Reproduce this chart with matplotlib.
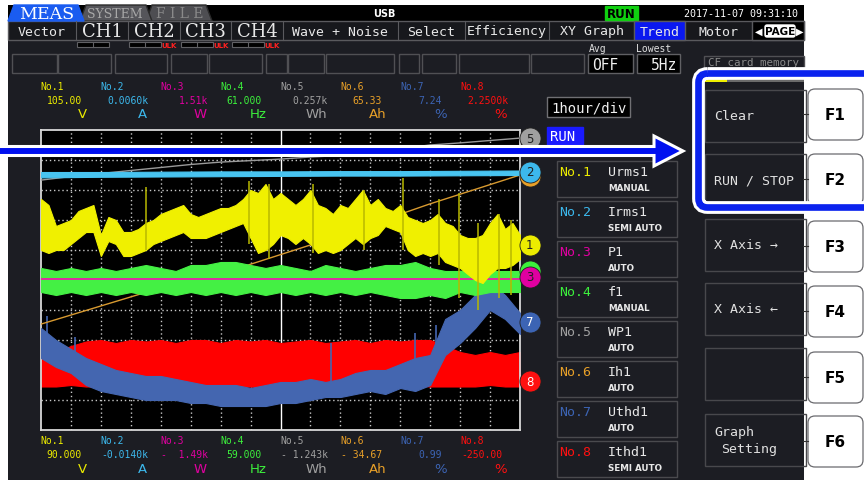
import numpy as np
import matplotlib
matplotlib.use('Agg')
import matplotlib.pyplot as plt
from matplotlib.patches import Rectangle, Polygon, FancyBboxPatch

# ---------------- data (trend values in divisions, 1 hour / div) ----------------
hours_q = np.arange(0, 16.01, 0.25)
hours_h = np.arange(0, 16.01, 0.5)
hours_1 = np.arange(0, 17, 1)
hours_2 = np.arange(0, 17, 2)

urms_hi = [7.7, 7.5, 6.8, 6.9, 7.0, 7.3, 7.4, 7.5, 6.5, 7.1,
           7.0, 6.6, 6.6, 6.7, 6.9, 7.0, 7.2, 7.3, 7.4, 7.5,
           7.2, 7.1, 7.2, 7.3, 7.4, 7.4, 7.5, 7.7, 8.0, 7.9,
           8.2, 7.7, 7.9, 7.7, 7.5, 7.7, 8.0, 7.5, 7.4, 7.2,
           7.5, 7.4, 7.7, 8.0, 7.5, 7.7, 7.4, 7.3, 7.5, 7.1,
           7.0, 6.9, 7.0, 7.2, 6.9, 6.8, 6.5, 6.4, 6.4, 6.5,
           6.9, 7.2, 6.7, 6.9, 6.5]
urms_lo = [6.0, 5.9, 6.0, 6.0, 6.2, 6.4, 6.6, 6.6, 5.8, 6.3,
           6.2, 5.8, 5.8, 5.9, 6.0, 6.2, 6.3, 6.4, 6.5, 6.6,
           6.4, 6.4, 6.4, 6.5, 6.6, 6.7, 6.8, 6.9, 6.4, 5.9,
           6.0, 6.2, 6.5, 6.4, 6.2, 6.4, 6.2, 5.9, 6.0, 5.9,
           6.0, 6.2, 6.4, 6.2, 6.4, 6.5, 6.8, 6.7, 6.6, 6.0,
           5.8, 5.9, 5.8, 5.9, 5.6, 5.5, 5.4, 5.2, 5.0, 4.9,
           5.2, 5.4, 5.4, 5.5, 5.7]
urms_spike_t = [3.5, 6.95, 7.6, 9.1, 10.8, 12.1, 13.3, 13.95, 14.6, 15.3, 15.7]
urms_spike_top = [8.1, 8.3, 8.2, 8.2, 8.0, 8.4, 7.7, 7.9, 6.9, 7.2, 7.0]
urms_spike_bot = [6.0, 6.2, 5.7, 5.9, 6.0, 6.0, 5.5, 4.4, 4.0, 4.4, 4.5]

irms_hi = [8.60, 8.60, 8.61, 8.62, 8.62, 8.63, 8.63, 8.64, 8.65]
irms_lo = [8.42, 8.44, 8.45, 8.46, 8.47, 8.48, 8.48, 8.49, 8.50]

p1_t = [0, 16]
p1_val = [5.03, 5.03]

f1_hi = [5.4, 5.3, 5.4, 5.3, 5.4, 5.3, 5.4, 5.5, 5.4, 5.3,
         5.5, 5.5, 5.6, 5.6, 5.5, 5.4, 5.5, 5.4, 5.3, 5.5,
         5.4, 5.3, 5.4, 5.5, 5.5, 5.6, 5.4, 5.3, 5.3, 5.4,
         5.3, 5.3, 5.3]
f1_lo = [4.6, 4.5, 4.6, 4.5, 4.6, 4.5, 4.6, 4.5, 4.6, 4.5,
         4.6, 4.5, 4.6, 4.5, 4.6, 4.5, 4.6, 4.5, 4.6, 4.5,
         4.6, 4.5, 4.6, 4.5, 4.4, 4.4, 4.5, 4.4, 4.6, 4.5,
         4.6, 4.6, 4.6]

wp1 = [8.33, 8.45, 8.55, 8.65, 8.75, 8.85, 8.93, 8.98, 9.03,
       9.10, 9.15, 9.28, 9.38, 9.50, 9.57, 9.65, 9.73]

ih1_t = [0, 3.97, 6.3, 9.63, 12.97, 16]
ih1 = [3.53, 4.73, 5.3, 6.37, 7.53, 8.5]

uthd_hi = [3.4, 3.0, 2.7, 2.4, 2.2, 2.0, 1.9, 1.8, 1.8, 1.7,
           1.6, 1.5, 1.5, 1.5, 1.4, 1.5, 1.6, 1.6, 1.7, 1.6,
           1.7, 1.9, 2.0, 2.0, 2.2, 2.4, 2.5, 3.7, 4.0, 4.5,
           4.9, 4.5, 3.9]
uthd_lo = [2.4, 2.1, 1.9, 1.5, 1.3, 1.2, 1.1, 1.0, 1.0, 1.0,
           0.9, 0.9, 0.8, 0.8, 0.8, 0.8, 0.9, 0.9, 1.0, 1.1,
           1.1, 1.2, 1.3, 1.2, 1.4, 1.3, 1.5, 2.5, 2.9, 3.4,
           4.0, 3.7, 3.2]
uthd_spike_t = [0.2, 1.15, 9.7, 12.5, 13.2]
uthd_spike_top = [3.8, 3.1, 2.9, 3.25, 3.5]
uthd_spike_bot = [2.6, 1.8, 1.3, 1.6, 2.2]

ithd_hi = [2.5, 2.6, 2.8, 2.95, 3.0, 2.9, 3.0, 2.95, 3.0, 2.9,
           3.0, 3.0, 2.9, 3.0, 2.95, 3.0, 2.9, 2.95, 3.0, 2.9,
           2.95, 3.0, 2.9, 3.0, 2.95, 3.0, 3.0, 2.8, 2.6, 2.5,
           2.6, 2.5, 2.6]
ithd_lo = [1.45, 1.45, 1.5, 1.45, 1.45, 1.4, 1.45, 1.45, 1.4, 1.45,
           1.45, 1.4, 1.45, 1.45, 1.45, 1.4, 1.45, 1.45, 1.4, 1.45,
           1.45, 1.45, 1.4, 1.45, 1.45, 1.5, 1.45, 1.45, 1.45, 1.45,
           1.5, 1.45, 1.45]

# channel zero markers (divisions) at right edge; 6 and 4 sit behind 2 and 3
marker_order = [5, 6, 2, 1, 4, 3, 7, 8]
marker_level = {1: 6.17, 2: 8.6, 3: 5.1, 4: 5.3, 5: 9.73, 6: 8.47, 7: 3.6, 8: 1.63}
marker_hidden = [6, 4]

ch_colors = ['#ecec00', '#3cb8ec', '#e000a0', '#3cf03c',
             '#a0a0a0', '#e8a028', '#3c64b4', '#ff1010']
ch_names = ['Urms1', 'Irms1', 'P1', 'f1', 'WP1', 'Ih1', 'Uthd1', 'Ithd1']
ch_modes = ['MANUAL', 'SEMI AUTO', 'AUTO', 'MANUAL', 'AUTO', 'AUTO', 'AUTO', 'SEMI AUTO']
top_vals = ['105.00', '0.0060k', '1.51k', '61.000', '0.257k', '65.33', '7.24', '2.2500k']
bot_vals = ['90.000', '-0.0140k', '-  1.49k', '59.000', '- 1.243k', '- 34.67', '0.99', '-250.00']
units = ['V', 'A', 'W', 'Hz', 'Wh', 'Ah', '%', '%']

menu_labels = ['Vector', 'CH1', 'CH2', 'CH3', 'CH4', 'Wave + Noise', 'Select',
               'Efficiency', 'XY Graph', 'Trend', 'Motor']
fkey_labels = ['Clear', 'RUN / STOP', 'X Axis \u2192', 'X Axis \u2190', '', 'Graph\n Setting']

MONO = 'DejaVu Sans Mono'
BG = '#1c1d23'
EDGE = '#4a4a4e'

fig = plt.figure(figsize=(8.64, 4.81), dpi=100)
fig.patch.set_facecolor('white')
ui = fig.add_axes([0, 0, 1, 1])
ui.set_xlim(0, 864)
ui.set_ylim(481, 0)
ui.axis('off')


def box(x0, y0, x1, y1, fc='none', ec=EDGE, lw=1.0, z=2, ax=ui):
    ax.add_patch(Rectangle((x0, y0), x1 - x0, y1 - y0, fc=fc, ec=ec, lw=lw, zorder=z))


def txt(x, y, s, size=8, color='white', ha='left', va='center', family=MONO,
        weight='normal', z=5, ax=ui):
    ax.text(x, y, s, fontsize=size, color=color, ha=ha, va=va, family=family,
            fontweight=weight, zorder=z)


# screen background
box(8, 6, 804, 481, fc=BG, ec='none', z=1)
box(8, 6, 804, 22, fc='black', ec='none', z=1)

# top tabs
ui.add_patch(Polygon([(146, 22), (152, 6), (206, 6), (212, 22)], fc='#4e4e52', ec='#2a2a2a', zorder=2))
ui.add_patch(Polygon([(80, 22), (86, 6), (146, 6), (152, 22)], fc='#55555a', ec='#2a2a2a', zorder=2))
ui.add_patch(Polygon([(8, 22), (14, 6), (78, 6), (84, 22)], fc='#1a5cf0', ec='#1a5cf0', zorder=3))
txt(47, 14.5, 'MEAS', size=12.5, family='DejaVu Serif', ha='center', z=6)
txt(115, 14.5, 'SYSTEM', size=9, family='DejaVu Serif', color='#a8a8a8', ha='center', z=6)
txt(180, 14.5, 'F I L E', size=10, family='DejaVu Serif', color='#8a8a8a', ha='center', z=6)
txt(384, 14, 'USB', size=7, weight='bold', family='DejaVu Sans', ha='center')
box(605, 7, 638, 21, fc='#10d010', ec='#10d010', z=3)
txt(621.5, 14, 'RUN', size=8.5, color='black', family='DejaVu Sans', weight='bold', ha='center')
txt(741, 14, '2017-11-07 09:31:10', size=7.2, ha='center')

# menu row
edges = [8, 76, 128, 180, 231, 283, 398, 465, 549, 634, 685, 752, 804]
box(8, 22, 804, 41, fc='#17181c', ec='#5a5a5e', z=2)
for i, lab in enumerate(menu_labels):
    x0, x1 = edges[i], edges[i + 1]
    if lab == 'Trend':
        box(x0, 22, x1, 41, fc='#0a18f0', ec='#5a5a5e', z=3)
    else:
        ui.plot([x1, x1], [22, 41], color='#5a5a5e', lw=0.8, zorder=3)
    if lab.startswith('CH'):
        txt((x0 + x1) / 2, 32, lab, size=13, family='DejaVu Serif', ha='center', color='#e8e8e8')
    else:
        txt((x0 + x1) / 2, 32, lab, size=9.5, ha='center', color='#e8e8e8')
box(752, 22, 804, 41, fc='black', ec='#5a5a5e', z=3)
txt(759, 32, '\u25c0', size=7, ha='center', family='DejaVu Sans')
ui.add_patch(FancyBboxPatch((765, 26), 30, 12, boxstyle='round,pad=0,rounding_size=2',
                            fc='white', ec='white', zorder=4))
txt(780, 32, 'PAGE', size=7.5, color='black', family='DejaVu Sans', weight='bold', ha='center')
txt(800, 32, '\u25b6', size=7, ha='center', family='DejaVu Sans')

# range indicators
for k, x0 in enumerate([77, 129, 181, 232]):
    box(x0, 43, x0 + 32, 48, fc='black', ec='#606064', lw=0.8)
    ui.plot([x0 + 16, x0 + 16], [43, 48], color='#606064', lw=0.8, zorder=3)
    if k > 0:
        txt(x0 + 40, 46, 'ULK', size=5, color='#ff2020', family='DejaVu Sans', weight='bold', ha='center')

# empty status boxes
for x0, x1 in [(12, 57), (58, 111), (115, 167), (171, 207), (209, 262), (266, 287),
               (288, 324), (326, 394), (399, 419), (422, 456), (459, 529), (531, 584)]:
    box(x0, 55, x1, 74, ec='#505054')
txt(598, 49, 'Avg', size=7, color='#e0e0e0', ha='center')
txt(654, 49, 'Lowest', size=7, color='#e0e0e0', ha='center')
box(588, 55, 633, 74, fc='black', ec='#606064')
txt(592, 65, 'OFF', size=10.5, color='#f0f0f0')
box(637, 55, 680, 74, fc='black', ec='#606064')
txt(677, 65, '5Hz', size=10.5, color='#f0f0f0', ha='right')
box(704, 57, 804, 69, ec='#505054')
txt(754, 63, 'CF card memory', size=7.8, color='#8a8a8a', ha='center')

# top and bottom value rows
for i in range(8):
    c = ch_colors[i]
    col = 40 + 60 * i
    right = 82 + 60 * i
    txt(col, 87, 'No.%d' % (i + 1), size=7, color=c)
    tv = top_vals[i]
    txt(right + (6 if tv.endswith('k') else 0), 101, tv, size=7, color=c, ha='right')
    txt(87 + 60 * i, 115, units[i], size=9.5, color=c, ha='right', family='DejaVu Sans')
    txt(col, 441, 'No.%d' % (i + 1), size=7, color=c)
    bv = bot_vals[i]
    txt(right + (6 if bv.endswith('k') else 0), 455, bv, size=7, color=c, ha='right')
    txt(87 + 60 * i, 470, units[i], size=9.5, color=c, ha='right', family='DejaVu Sans')

box(547, 98, 630, 118, fc='black', ec='#707074')
txt(551, 108.5, '1hour/div', size=10, color='#f0f0f0')
box(547, 128, 583, 146, fc='#1a1aff', ec='#1a1aff', z=3)
txt(550, 137.5, 'RUN', size=10, color='white')

# channel list on the right
for i in range(8):
    y0 = 162 + 40 * i
    box(557, y0, 677, y0 + 36, ec=EDGE)
    txt(559, y0 + 11, 'No.%d' % (i + 1), size=9.5, color=ch_colors[i])
    txt(608, y0 + 11, ch_names[i], size=9.5, color='#e8e8e8')
    txt(608, y0 + 27, ch_modes[i], size=6.3, color='#e8e8e8', family='DejaVu Sans', weight='bold')

# function key panel
box(804, 0, 864, 481, fc='white', ec='none', z=1)
fkey_y = [91, 155, 220, 284, 349, 415]
fbtn_y = [90, 155, 222, 287, 353, 417]
for i, lab in enumerate(fkey_labels):
    y0 = fkey_y[i]
    box(705, y0, 806, y0 + 52, ec='#48484c')
    if lab:
        if '\n' in lab:
            txt(714, y0 + 18, 'Graph', size=9.5, color='#e0e0e0')
            txt(721, y0 + 35, 'Setting', size=9.5, color='#e0e0e0')
        else:
            txt(714, y0 + 26, lab, size=9.5, color='#e0e0e0')
    by = fbtn_y[i]
    ui.add_patch(FancyBboxPatch((808, by), 55, 51, boxstyle='round,pad=0,rounding_size=7',
                                fc='white', ec='#6a6a6e', lw=0.9, zorder=3))
    ui.plot([803, 808], [by + 25, by + 25], color='#333333', lw=0.8, zorder=4)
    txt(835.5, by + 26, 'F%d' % (i + 1), size=11, color='black', family='DejaVu Sans',
        weight='bold', ha='center')
box(705, 80, 727, 83, fc='#f0f000', ec='none', z=3)
box(727, 81, 804, 82.5, fc='#6a6a6a', ec='none', z=3)

# ---------------- trend graph ----------------
tr = fig.add_axes([41 / 864, (481 - 431) / 481, 479 / 864, 300 / 481])
tr.set_facecolor('black')
tr.set_xlim(0, 16)
tr.set_ylim(0, 10)
tr.set_xticks([])
tr.set_yticks([])
for s in tr.spines.values():
    s.set_color('#d8d8d8')
    s.set_linewidth(1.3)
for k in range(1, 16):
    if k != 8:
        tr.axvline(k, color='#c8c8c8', lw=1.0, ls=(0, (1, 2)), zorder=1)
for k in range(1, 10):
    tr.axhline(k, color='#c8c8c8', lw=1.0, ls=(0, (1, 2)), zorder=1)
tr.axvline(8, color='white', lw=1.0, zorder=1)

tr.fill_between(hours_h, ithd_lo, ithd_hi, color='#ff0000', lw=0.8, zorder=2)
tr.fill_between(hours_h, uthd_lo, uthd_hi, color='#4466b0', lw=0.8, zorder=3)
tr.vlines(uthd_spike_t, uthd_spike_bot, uthd_spike_top, color='#4466b0', lw=1.2, zorder=3)
tr.plot(ih1_t, ih1, color='#d89a30', lw=1.0, zorder=4)
tr.plot(hours_1, wp1, color='#9a9a9a', lw=1.0, zorder=5)
tr.fill_between(hours_h, f1_lo, f1_hi, color='#44f044', lw=0.8, zorder=6)
tr.plot(p1_t, p1_val, color='#e81ea8', lw=1.3, zorder=7)
tr.fill_between(hours_2, irms_lo, irms_hi, color='#48c4f0', lw=0.8, zorder=8)
tr.fill_between(hours_q, urms_lo, urms_hi, color='#f0f000', lw=0.8, zorder=9)
tr.vlines(urms_spike_t, urms_spike_bot, urms_spike_top, color='#b8b800', lw=1.1, zorder=9)

for n, ch in enumerate(marker_order):
    lvl = marker_level[ch]
    tr.scatter([16.33], [lvl], s=230, color=ch_colors[ch - 1], edgecolor='#202020',
               lw=0.6, clip_on=False, zorder=20 + 2 * n)
    if ch in marker_hidden:
        continue
    tc = 'white' if ch in (7, 8) else '#202020'
    tr.text(16.33, lvl, str(ch), fontsize=8.5, color=tc, ha='center', va='center',
            family='DejaVu Sans', zorder=21 + 2 * n, clip_on=False)

# ---------------- overlay: arrow and highlight ----------------
ov = fig.add_axes([0, 0, 1, 1], zorder=10)
ov.set_xlim(0, 864)
ov.set_ylim(481, 0)
ov.axis('off')
ov.patch.set_alpha(0)
ov.add_patch(Polygon([(-5, 147.5), (654, 147.5), (654, 137), (683, 152), (654, 167),
                      (654, 156.5), (-5, 156.5)], closed=True, fc='#0010f0', ec='white',
                     lw=2.2, joinstyle='miter'))
for lw, c in [(9.2, 'white'), (4.8, '#0a22ee')]:
    ov.add_patch(FancyBboxPatch((698.5, 74.5), 190, 134, boxstyle='round,pad=0,rounding_size=9',
                                fc='none', ec=c, lw=lw))

fig.savefig('out.png', dpi=100)
